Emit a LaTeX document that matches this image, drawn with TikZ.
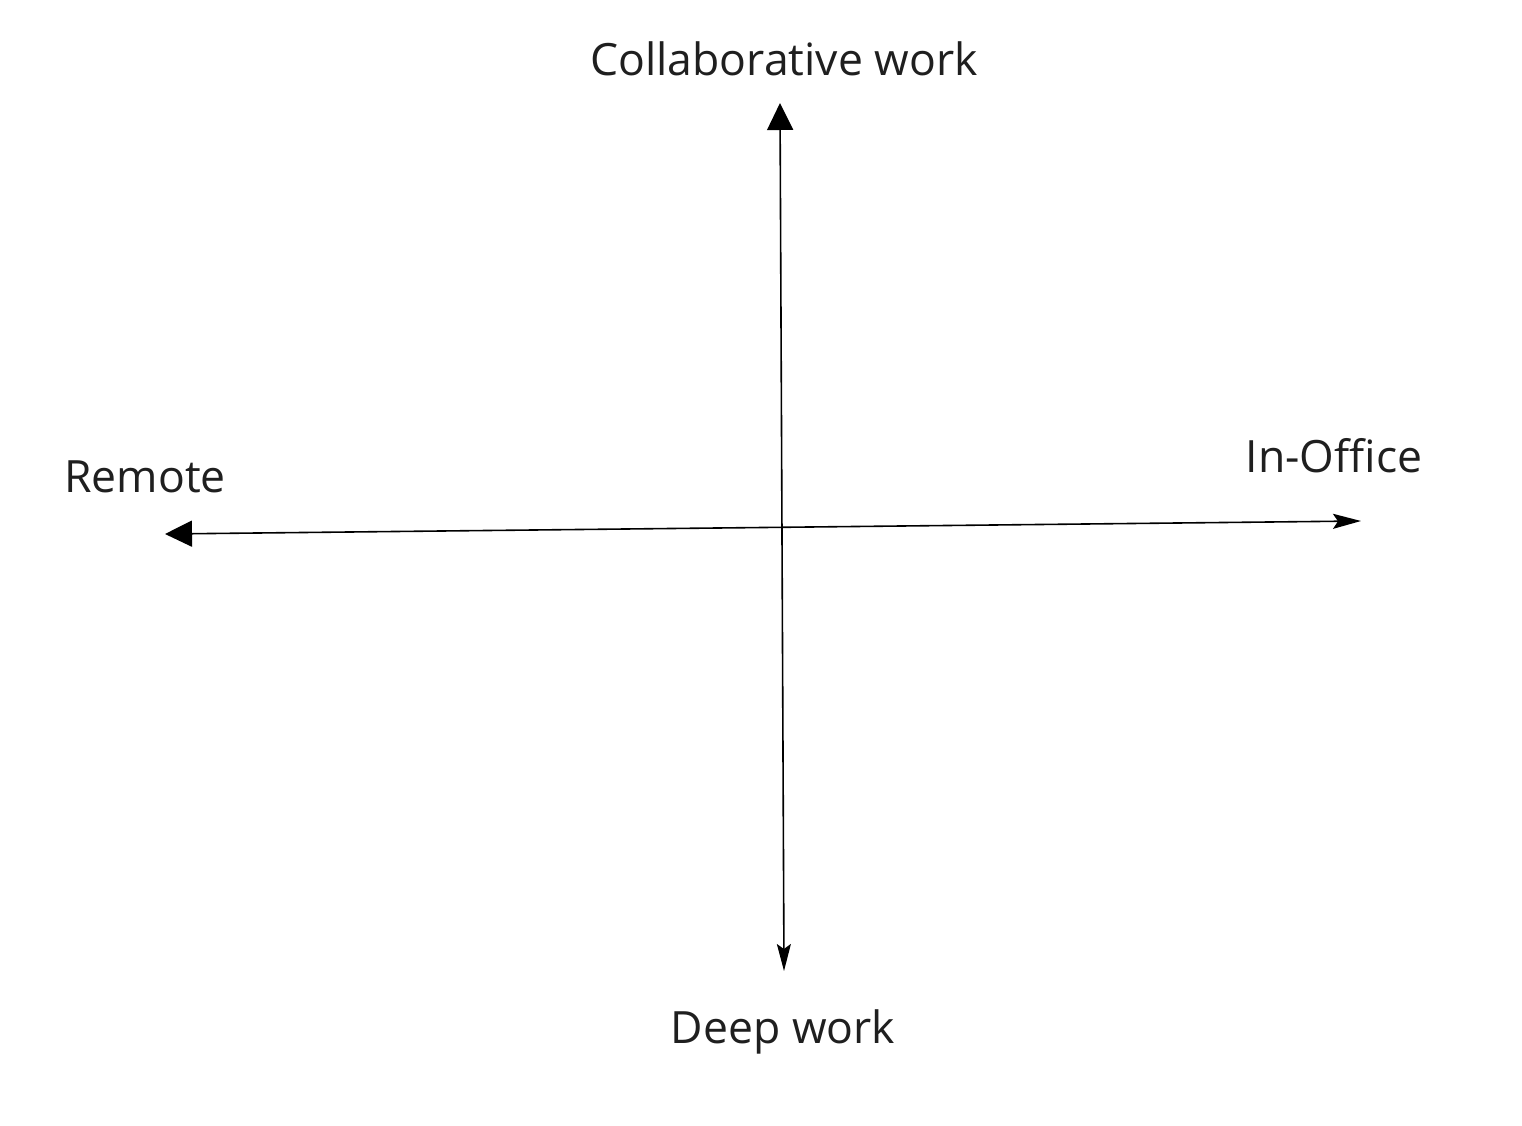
\documentclass[tikz,border=0pt]{standalone}
\usepackage{fontspec}
\setmainfont{Open Sans}
\usetikzlibrary{arrows.meta}

\tikzset{
	axis/.style={line width=1.6pt},
	axislabel/.style={font=\fontsize{44.5}{52}\selectfont, text=black!88, inner sep=0pt}
}

\begin{document}
\begin{tikzpicture}[x=1pt, y=-1pt]
				\useasboundingbox[fill=white] (0,0) rectangle (1522,1126);
				
				\coordinate (top) at (780,103);
				\coordinate (bottom) at (784,971);
				\coordinate (left) at (165,534);
				\coordinate (right) at (1361,521);
				
				\draw[axis, {Triangle[length=27pt, width=26pt]}-{Stealth[length=27pt, width=14pt, inset=5pt]}] (top) -- (bottom);
				\draw[axis, {Triangle[length=27pt, width=26pt]}-{Stealth[length=28pt, width=15pt, inset=5pt]}] (left) -- (right);
				
				\node[axislabel] (collab) at (784,59) {Collaborative work};
				\node[axislabel] (deep) at (783,1032) {Deep work};
				\node[axislabel] (remote) at (145,477) {Remote};
				\node[axislabel] (office) at (1334,456) {In-Office};
\end{tikzpicture}
\end{document}
